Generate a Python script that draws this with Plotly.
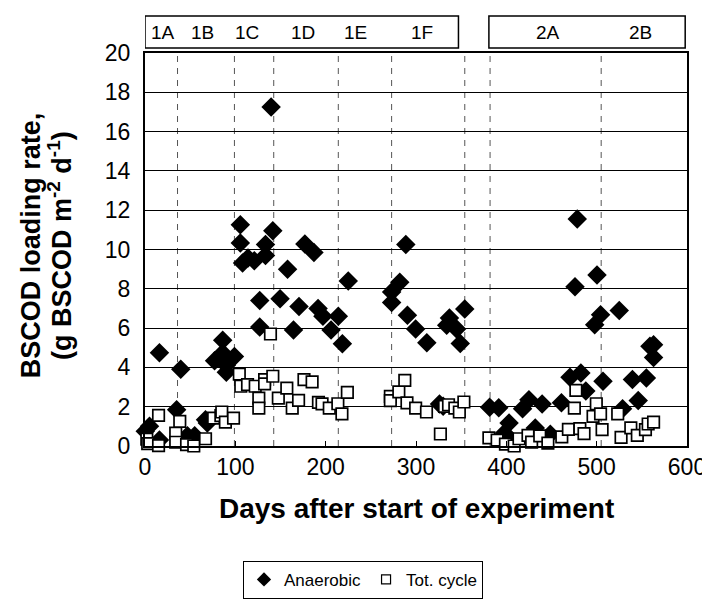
import plotly.graph_objects as go

# Anaerobic (filled diamonds)
anaer_days = [0.3, 5, 16, 16, 35, 39.6, 47, 55, 67, 69, 77, 86, 86, 90, 90, 99,
              105.5, 105.5, 108, 114, 121, 127, 127, 133.4, 133.4, 139.6, 141.5,
              149.5, 157.8, 164.4, 170.5, 177, 187, 191.6, 197, 206, 214, 218.5, 225,
              273, 273, 282, 288.7, 290.5, 299.6, 312, 326, 330, 334, 337, 345, 349, 354,
              381.5, 391.6, 398, 400, 403, 418, 425, 432, 439.6, 448.7, 461, 470.5, 476,
              478.5, 482.5, 488, 497.8, 500.4, 504.3, 507, 525, 528.7, 539.6, 546, 555,
              559, 563, 563]
anaer_vals = [0.75, 1.0, 4.75, 0.3, 1.85, 3.9, 0.52, 0.52, 1.34, 1.17, 4.34, 5.38, 4.73, 4.11, 3.75, 4.55,
              11.26, 10.33, 9.31, 9.57, 9.43, 7.4, 6.05, 10.25, 9.69, 17.25, 10.95,
              7.5, 9.0, 5.9, 7.1, 10.28, 9.85, 7.0, 6.6, 5.9, 6.6, 5.2, 8.4,
              7.84, 7.3, 8.33, 10.25, 6.65, 5.95, 5.25, 2.14, 2.02, 6.14, 6.51, 5.95, 5.21, 6.97,
              1.97, 1.95, 0.66, 0.44, 1.17, 1.9, 2.36, 0.92, 2.14, 0.6, 2.2, 3.5, 8.1,
              11.55, 3.71, 2.8, 6.17, 8.7, 6.68, 3.29, 6.9, 1.9, 3.38, 2.31, 3.46,
              5.07, 5.15, 4.5]

# Total cycle (open squares)
tot_days = [2, 3, 15, 15, 34, 34, 38.5, 46, 54, 67, 76, 84, 85, 89, 98,
            104.4, 106, 113.5, 122, 126, 126, 132.4, 132.4, 138.9, 141.5, 147.6, 157, 163,
            170, 176, 185, 192, 196, 204, 213.5, 218, 224,
            271.6, 271.6, 281, 287.6, 290, 299.6, 311.6, 327, 331.6, 336, 343, 348, 353,
            380.7, 389.8, 399, 408.7, 414, 424, 428, 437, 446,
            461.4, 468.7, 475.3, 477, 481.4, 486, 496, 499.6, 504.3, 506, 523.3, 527,
            537.8, 545, 554, 557, 563]
tot_vals = [0.35, 0.12, 1.56, 0.02, 0.66, 0.19, 1.25, 0.07, 0.0, 0.37, 1.42, 1.55, 1.73, 1.22, 1.42,
            3.66, 3.04, 3.12, 3.04, 2.44, 1.93, 3.38, 3.16, 5.7, 3.55, 2.44, 2.95, 1.93,
            2.32, 3.38, 3.26, 2.22, 2.14, 1.93, 2.15, 1.63, 2.73,
            2.53, 2.31, 2.75, 3.34, 2.19, 1.93, 1.73, 0.61, 2.02, 2.1, 1.93, 1.73, 2.24,
            0.41, 0.3, 0.1, 0.0, 0.37, 0.54, 0.2, 0.52, 0.15,
            0.46, 0.85, 1.93, 2.83, 0.88, 0.63, 1.51, 2.15, 1.63, 0.83, 1.63, 0.44,
            0.92, 0.54, 0.83, 1.12, 1.22]

# Phase boundaries (days) and phase labels
phase_bounds = [36, 99, 142.5, 214, 273, 354, 382, 505]
phase_labels = ["1A", "1B", "1C", "1D", "1E", "1F", "2A", "2B"]
phase_label_days = [19.6, 64, 113, 174.5, 233, 306.5, 446, 549]
period_boxes = [(0, 347), (380.7, 598)]

x_ticks = [0, 100, 200, 300, 400, 500, 600]
y_ticks = [0, 2, 4, 6, 8, 10, 12, 14, 16, 18, 20]

FONT = "Liberation Sans, Arial, sans-serif"

fig = go.Figure()
fig.add_trace(go.Scatter(
    x=anaer_days, y=anaer_vals, mode="markers", name="Anaerobic", showlegend=False,
    marker=dict(symbol="diamond", size=15, color="black", line=dict(width=0)),
    cliponaxis=False))
fig.add_trace(go.Scatter(
    x=tot_days, y=tot_vals, mode="markers", name="Tot. cycle", showlegend=False,
    marker=dict(symbol="square", size=11.5, color="white", line=dict(width=1.7, color="black")),
    cliponaxis=False))
# legend entries with the small symbols used in the reference legend
fig.add_trace(go.Scatter(
    x=[None], y=[None], mode="markers", name="Anaerobic",
    marker=dict(symbol="diamond", size=11, color="black", line=dict(width=0))))
fig.add_trace(go.Scatter(
    x=[None], y=[None], mode="markers", name="Tot. cycle",
    marker=dict(symbol="square", size=9, color="white", line=dict(width=1.2, color="black"))))

shapes = []
for d in phase_bounds:
    shapes.append(dict(type="line", xref="x", yref="y", x0=d, x1=d, y0=0, y1=20,
                       line=dict(color="#555555", width=1, dash="6px,6px"), layer="below"))
for a, b in period_boxes:
    shapes.append(dict(type="rect", xref="x", yref="paper", x0=a, x1=b, y0=1.0127, y1=1.094,
                       line=dict(color="black", width=1.5), fillcolor="white"))
annotations = []
for lab, d in zip(phase_labels, phase_label_days):
    annotations.append(dict(text=lab, xref="x", yref="paper", x=d, y=1.053, showarrow=False,
                            font=dict(family=FONT, size=19, color="black"),
                            xanchor="center", yanchor="middle"))
# y-axis title, two lines
annotations.append(dict(
    text="<b>BSCOD loading rate,</b>",
    xref="paper", yref="paper", x=-0.211, y=0.51, textangle=-90, showarrow=False,
    font=dict(family=FONT, size=27, color="black"), xanchor="center", yanchor="middle"))
annotations.append(dict(
    text="<b>(g BSCOD m<sup>-2</sup> d<sup>-1</sup>)</b>",
    xref="paper", yref="paper", x=-0.158, y=0.51, textangle=-90, showarrow=False,
    font=dict(family=FONT, size=27, color="black"), xanchor="center", yanchor="middle"))
# x-axis title
annotations.append(dict(
    text="<b>Days after start of experiment</b>",
    xref="paper", yref="paper", x=0.5, y=-0.158, showarrow=False,
    font=dict(family=FONT, size=28, color="black"), xanchor="center", yanchor="middle"))

fig.update_layout(
    width=710, height=599,
    margin=dict(l=137, r=23, t=45, b=161),
    paper_bgcolor="white", plot_bgcolor="white",
    font=dict(family=FONT, size=23, color="black"),
    shapes=shapes, annotations=annotations,
    showlegend=True,
    legend=dict(orientation="h", xref="container", yref="container",
                x=0.50, y=0.077, xanchor="center", yanchor="top",
                bordercolor="black", borderwidth=1, bgcolor="white",
                font=dict(family=FONT, size=17, color="black"),
                itemwidth=30, tracegroupgap=0),
)
fig.update_xaxes(range=[0, 600], tickvals=x_ticks, showgrid=False, zeroline=False,
                 showline=True, linecolor="black", linewidth=1.5, mirror=True,
                 ticks="inside", ticklen=5, tickcolor="black",
                 tickfont=dict(family=FONT, size=23))
fig.update_yaxes(range=[0, 20], tickvals=y_ticks, showgrid=True, gridcolor="black", gridwidth=1,
                 zeroline=False, showline=True, linecolor="black", linewidth=2, mirror=True,
                 ticks="", tickfont=dict(family=FONT, size=23), ticklabelstandoff=8)

fig.write_html("out.html")
